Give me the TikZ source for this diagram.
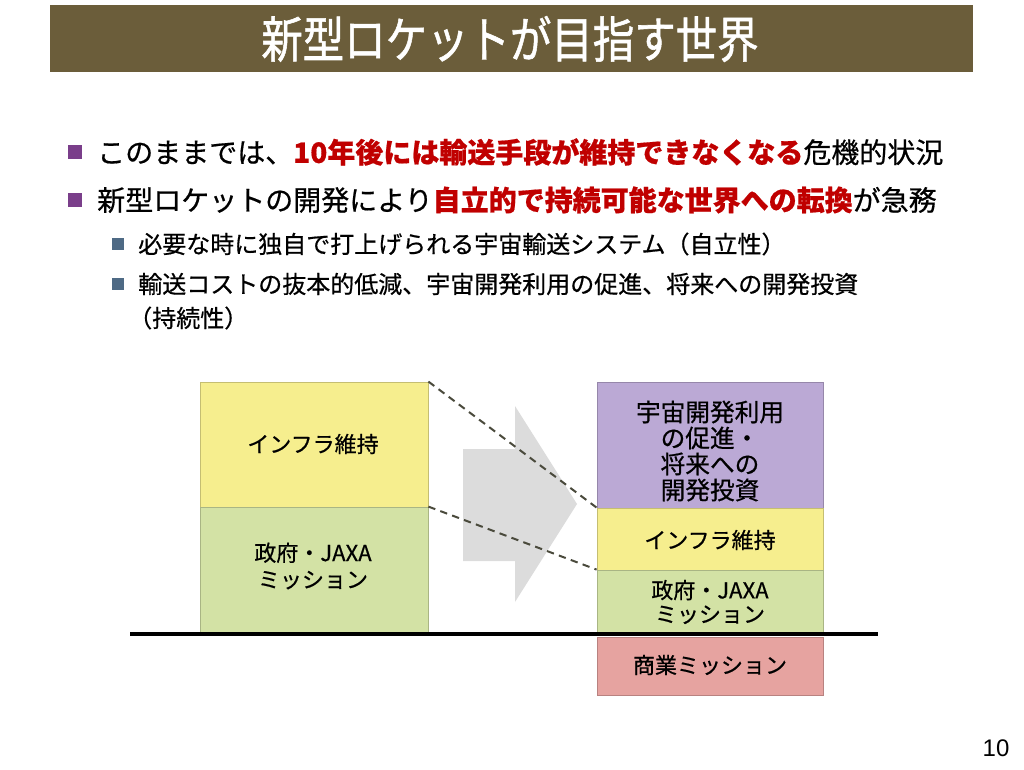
\documentclass[tikz,border=0pt]{standalone}
\usepackage{graphicx}
\usepackage{fontspec}
\setmainfont{Liberation Sans}
\newfontfamily\jp{Noto Sans CJK JP}[FakeBold=0.6]
\newfontfamily\jpt{Noto Sans CJK JP}[FakeBold=1.2]
\definecolor{titlebg}{HTML}{6B5D3A}
\definecolor{accent}{HTML}{C00000}
\definecolor{bulletA}{HTML}{7A3E8A}
\definecolor{bulletB}{HTML}{4E6A85}
\definecolor{boxyellow}{HTML}{F6EE8E}
\definecolor{boxgreen}{HTML}{D3E2A5}
\definecolor{boxpurple}{HTML}{BBA9D5}
\definecolor{boxred}{HTML}{E6A3A0}
\definecolor{arrowgray}{HTML}{DCDCDC}
\definecolor{dashcol}{HTML}{4A4A3C}
\tikzset{
  mainbullet/.style={fill=bulletA, minimum size=10.5pt, inner sep=0pt},
  subbullet/.style={fill=bulletB, minimum size=9pt, inner sep=0pt},
  maintext/.style={anchor=west, inner sep=0pt, font=\jp\fontsize{21}{24}\selectfont},
  subtext/.style={anchor=west, inner sep=0pt, font=\jp\fontsize{18}{21}\selectfont},
  block/.style={inner sep=0pt, align=center, draw=#1!80!black, line width=0.6pt, fill=#1},
  blocktext/.style={font=\jp\fontsize{16.5}{20}\selectfont},
  dashline/.style={dashed, dash pattern=on 5.5pt off 4pt, draw=dashcol, line width=1.5pt}
}
\begin{document}
\begin{tikzpicture}[x=0.75pt,y=-0.75pt]
\useasboundingbox (0,0) rectangle (1024,770);
% title
\fill[titlebg] (50,5) rectangle (973,72);
\node[text=white, font=\jpt\fontsize{37}{40}\selectfont] (title) at (510,39) {\scalebox{0.84}[1]{新型ロケットが目指す世界}};
% bullets
\node[mainbullet] (m1) at (75,152) {};
\node[maintext] (m1t) at (97,152) {このままでは、\textcolor{accent}{\bfseries 10年後には輸送手段が維持できなくなる}危機的状況};
\node[mainbullet] (m2) at (75,200) {};
\node[maintext] (m2t) at (97,200) {新型ロケットの開発により\textcolor{accent}{\bfseries 自立的で持続可能な世界への転換}が急務};
\node[subbullet] (s1) at (118,244) {};
\node[subtext] (s1t) at (138,244) {必要な時に独自で打上げられる宇宙輸送システム（自立性）};
\node[subbullet] (s2) at (118,284) {};
\node[subtext] (s2t) at (138,284) {輸送コストの抜本的低減、宇宙開発利用の促進、将来への開発投資};
\node[subtext] (s3t) at (128,318) {（持続性）};
% big arrow
\fill[arrowgray] (463,449) -- (515,449) -- (515,406) -- (577,504) -- (515,602) -- (515,561) -- (463,561) -- cycle;
% left blocks
\node[block=boxyellow, minimum width=171pt, minimum height=93.75pt] (ly) at (314,444.5) {};
\node[blocktext] (lyt) at (313,444) {インフラ維持};
\node[block=boxgreen, minimum width=171pt, minimum height=94.5pt] (lg) at (314,570) {};
\node[blocktext, align=center] (lgt) at (313,566) {政府・JAXA\\ミッション};
% right blocks
\node[block=boxpurple, minimum width=169.5pt, minimum height=94.5pt] (rp) at (710,445) {};
\node[blocktext, align=center, font=\jp\fontsize{18.5}{19.5}\selectfont] (rpt) at (710,451) {宇宙開発利用\\の促進・\\将来への\\開発投資};
\node[block=boxyellow, minimum width=169.5pt, minimum height=46.5pt] (ry) at (710,539) {};
\node[blocktext] (ryt) at (710,540) {インフラ維持};
\node[block=boxgreen, minimum width=169.5pt, minimum height=46.5pt] (rg) at (710,601) {};
\node[blocktext, align=center, font=\jp\fontsize{16.5}{18}\selectfont] (rgt) at (710,602) {政府・JAXA\\ミッション};
\node[block=boxred, minimum width=169.5pt, minimum height=43.5pt] (rr) at (710,666) {};
\node[blocktext] (rrt) at (710,665) {商業ミッション};
% dashed guides
\draw[dashline] (ly.north east) -- (ry.north west);
\draw[dashline] (lg.north east) -- (rg.north west);
% ground line
\coordinate (g1) at (130,634);
\coordinate (g2) at (878,634);
\draw[line width=2.4pt] (g1) -- (g2);
% page number
\node[font=\fontsize{18}{20}\selectfont] (pn) at (996,748) {10};
\end{tikzpicture}
\end{document}
